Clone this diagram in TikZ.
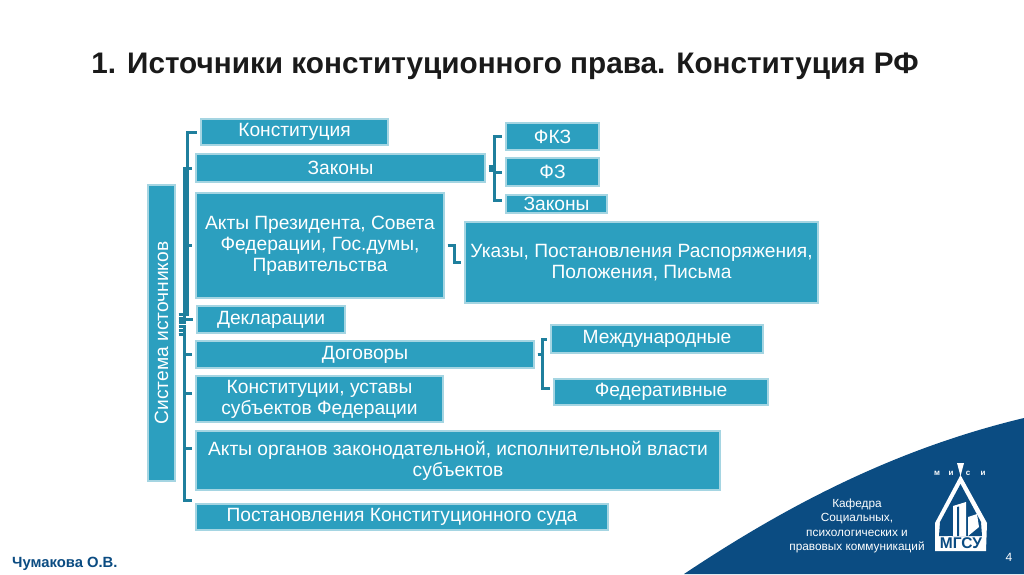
\documentclass[tikz,border=0pt]{standalone}
\usepackage{fontspec}
\setmainfont{Liberation Sans}
\usetikzlibrary{calc}
\definecolor{boxfill}{HTML}{2C9FBF}
\definecolor{boxedge}{HTML}{A5D5E2}
\definecolor{connc}{HTML}{1F7F9D}
\definecolor{navy}{HTML}{0B4C82}
\definecolor{titlec}{HTML}{1A1A1A}
\tikzset{
  x=1pt,y=-1pt,
  bx/.style={draw=boxedge,line width=1.2pt,fill=boxfill,text=white,inner sep=0pt,align=center,font=\fontsize{19.2}{21}\selectfont,execute at begin node={\vspace*{2pt}}},
  conn/.style={draw=connc,line width=3pt,line join=miter,shorten >=3pt}
}
\newcommand{\bbox}[6]{% name, x0, y0, x1, y1, text
  \path let \n1={#4-#2}, \n2={#5-#3} in
    node[bx,minimum width=\n1 pt,minimum height=\n2 pt] (#1) at ({(#2+#4)/2},{(#3+#5)/2}) {#6};}
\begin{document}
\begin{tikzpicture}
\useasboundingbox (0,0) rectangle (1024,574);
\fill[white] (0,0) rectangle (1024,574);
% swoosh
\fill[navy] (684,574) .. controls (780,510) and (890,450) .. (1024,418) -- (1024,574) -- cycle;
% title
\node[font=\bfseries\fontsize{29.7}{34}\selectfont,text=titlec] (title) at (505,66) {1. Источники конституционного права. Конституция РФ};
% boxes
\bbox{konst}{201}{119}{388}{145}{Конституция}
\bbox{zak}{196}{154}{485}{182}{Законы}
\bbox{aktp}{196}{193}{444}{298}{Акты Президента, Совета\\Федерации, Гос.думы,\\Правительства}
\bbox{ukaz}{465}{222}{818}{303}{Указы, Постановления Распоряжения,\\Положения, Письма}
\bbox{fkz}{506}{123}{599}{150}{ФКЗ}
\bbox{fz}{506}{158}{599}{186}{ФЗ}
\bbox{zaks}{506}{195}{607}{213}{Законы}
\bbox{dekl}{197}{306}{345}{333}{Декларации}
\bbox{dog}{196}{341}{534}{368}{Договоры}
\bbox{kust}{196}{376}{443}{422}{Конституции, уставы\\субъектов Федерации}
\bbox{akto}{196}{431}{720}{490}{Акты органов законодательной, исполнительной власти\\субъектов}
\bbox{post}{196}{504}{608}{530}{Постановления Конституционного суда}
\bbox{mezh}{551}{325}{763}{353}{Международные}
\bbox{fed}{554}{379}{768}{405}{Федеративные}
\bbox{sys}{148}{185}{175}{481}{}
\node[rotate=90,text=white,font=\fontsize{19.2}{22}\selectfont] (syst) at (sys.center) {Система источников};
% main connectors
\path (sys.east) ++(3,0) coordinate (hub);
\draw[conn] ($(hub)+(0,-19)$) -- ++(9,0) |- (konst.west);
\draw[conn] ($(hub)+(0,-15)$) -- ++(6,0) |- (zak.west);
\draw[conn] ($(hub)+(0,-11)$) -- ++(6,0) |- (aktp.west);
\draw[conn] ($(hub)+(0,-14)$) -- ++(9,0) |- (dekl.west);
\draw[conn] ($(hub)+(0,-7)$) -- ++(6,0) |- (dog.west);
\draw[conn] ($(hub)+(0,-3)$) -- ++(6,0) |- ($(kust.west)+(0,-6)$);
\draw[conn] ($(hub)+(0,1)$) -- ++(6,0) |- ($(akto.west)+(0,-12)$);
\draw[conn] ($(hub)+(0,1)$) -- ++(6,0) |- ($(post.north west)+(0,-3)$);
% branches
\draw[conn,shorten <=3pt] ($(zak.east)+(0,-2)$) -- ++(9,0) |- (fkz.west);
\draw[conn,shorten <=3pt] ($(zak.east)+(0,0)$) -- ++(9,0) |- (fz.west);
\draw[conn,shorten <=3pt] ($(zak.east)+(0,2)$) -- ++(9,0) |- ($(zaks.west)+(0,-4)$);
\draw[conn,shorten <=3pt] (dog.east) -- ++(8,0) |- (mezh.west);
\draw[conn,shorten <=3pt] (dog.east) -- ++(8,0) |- ($(fed.west)+(0,-4)$);
\draw[conn,shorten <=3pt] (aktp.east) -- ++(9.5,0) |- (ukaz.west);
% footer
\node[font=\bfseries\fontsize{14.8}{17}\selectfont,text=navy,anchor=west,inner sep=0pt] (auth) at (12,564) {Чумакова О.В.};
\node[font=\fontsize{11.8}{14.4}\selectfont,text=white,align=center] (kaf) at (857,526) {Кафедра\\Социальных,\\психологических и\\правовых коммуникаций};
\node[font=\fontsize{12}{13}\selectfont,text=white] (pg) at (1009,557) {4};
% logo
\fill[white] (957,463) -- (964,463) -- (960.5,476) -- cycle;
\fill[white] (960.5,475) -- (987,523) -- (986,551) -- (935,551) -- (935,523) -- cycle;
\fill[navy] (960.5,484) -- (981,522) -- (982,536) -- (939,536) -- (940,522) -- cycle;
\fill[white] (953,506) -- (966,502) -- (966,536) -- (953,536) -- cycle;
\fill[navy] (957,507) -- (959,506.5) -- (959,536) -- (957,536) -- cycle;
\fill[white] (968,517) -- (977,514) -- (979,527) -- (968,536) -- cycle;
\fill[white] (940,536) arc[start angle=180,end angle=0,radius=6] -- (948,536) arc[start angle=0,end angle=180,radius=4] -- cycle;
\node[font=\bfseries\fontsize{15.5}{15}\selectfont,text=navy,inner sep=0pt] (mgsu) at (961,543.5) {МГСУ};
\node[font=\bfseries\fontsize{8}{8}\selectfont,text=white,inner sep=0pt] (l1) at (937,473) {м};
\node[font=\bfseries\fontsize{8}{8}\selectfont,text=white,inner sep=0pt] (l2) at (951,473) {и};
\node[font=\bfseries\fontsize{8}{8}\selectfont,text=white,inner sep=0pt] (l3) at (968,473) {с};
\node[font=\bfseries\fontsize{8}{8}\selectfont,text=white,inner sep=0pt] (l4) at (983,473) {и};
\end{tikzpicture}
\end{document}
